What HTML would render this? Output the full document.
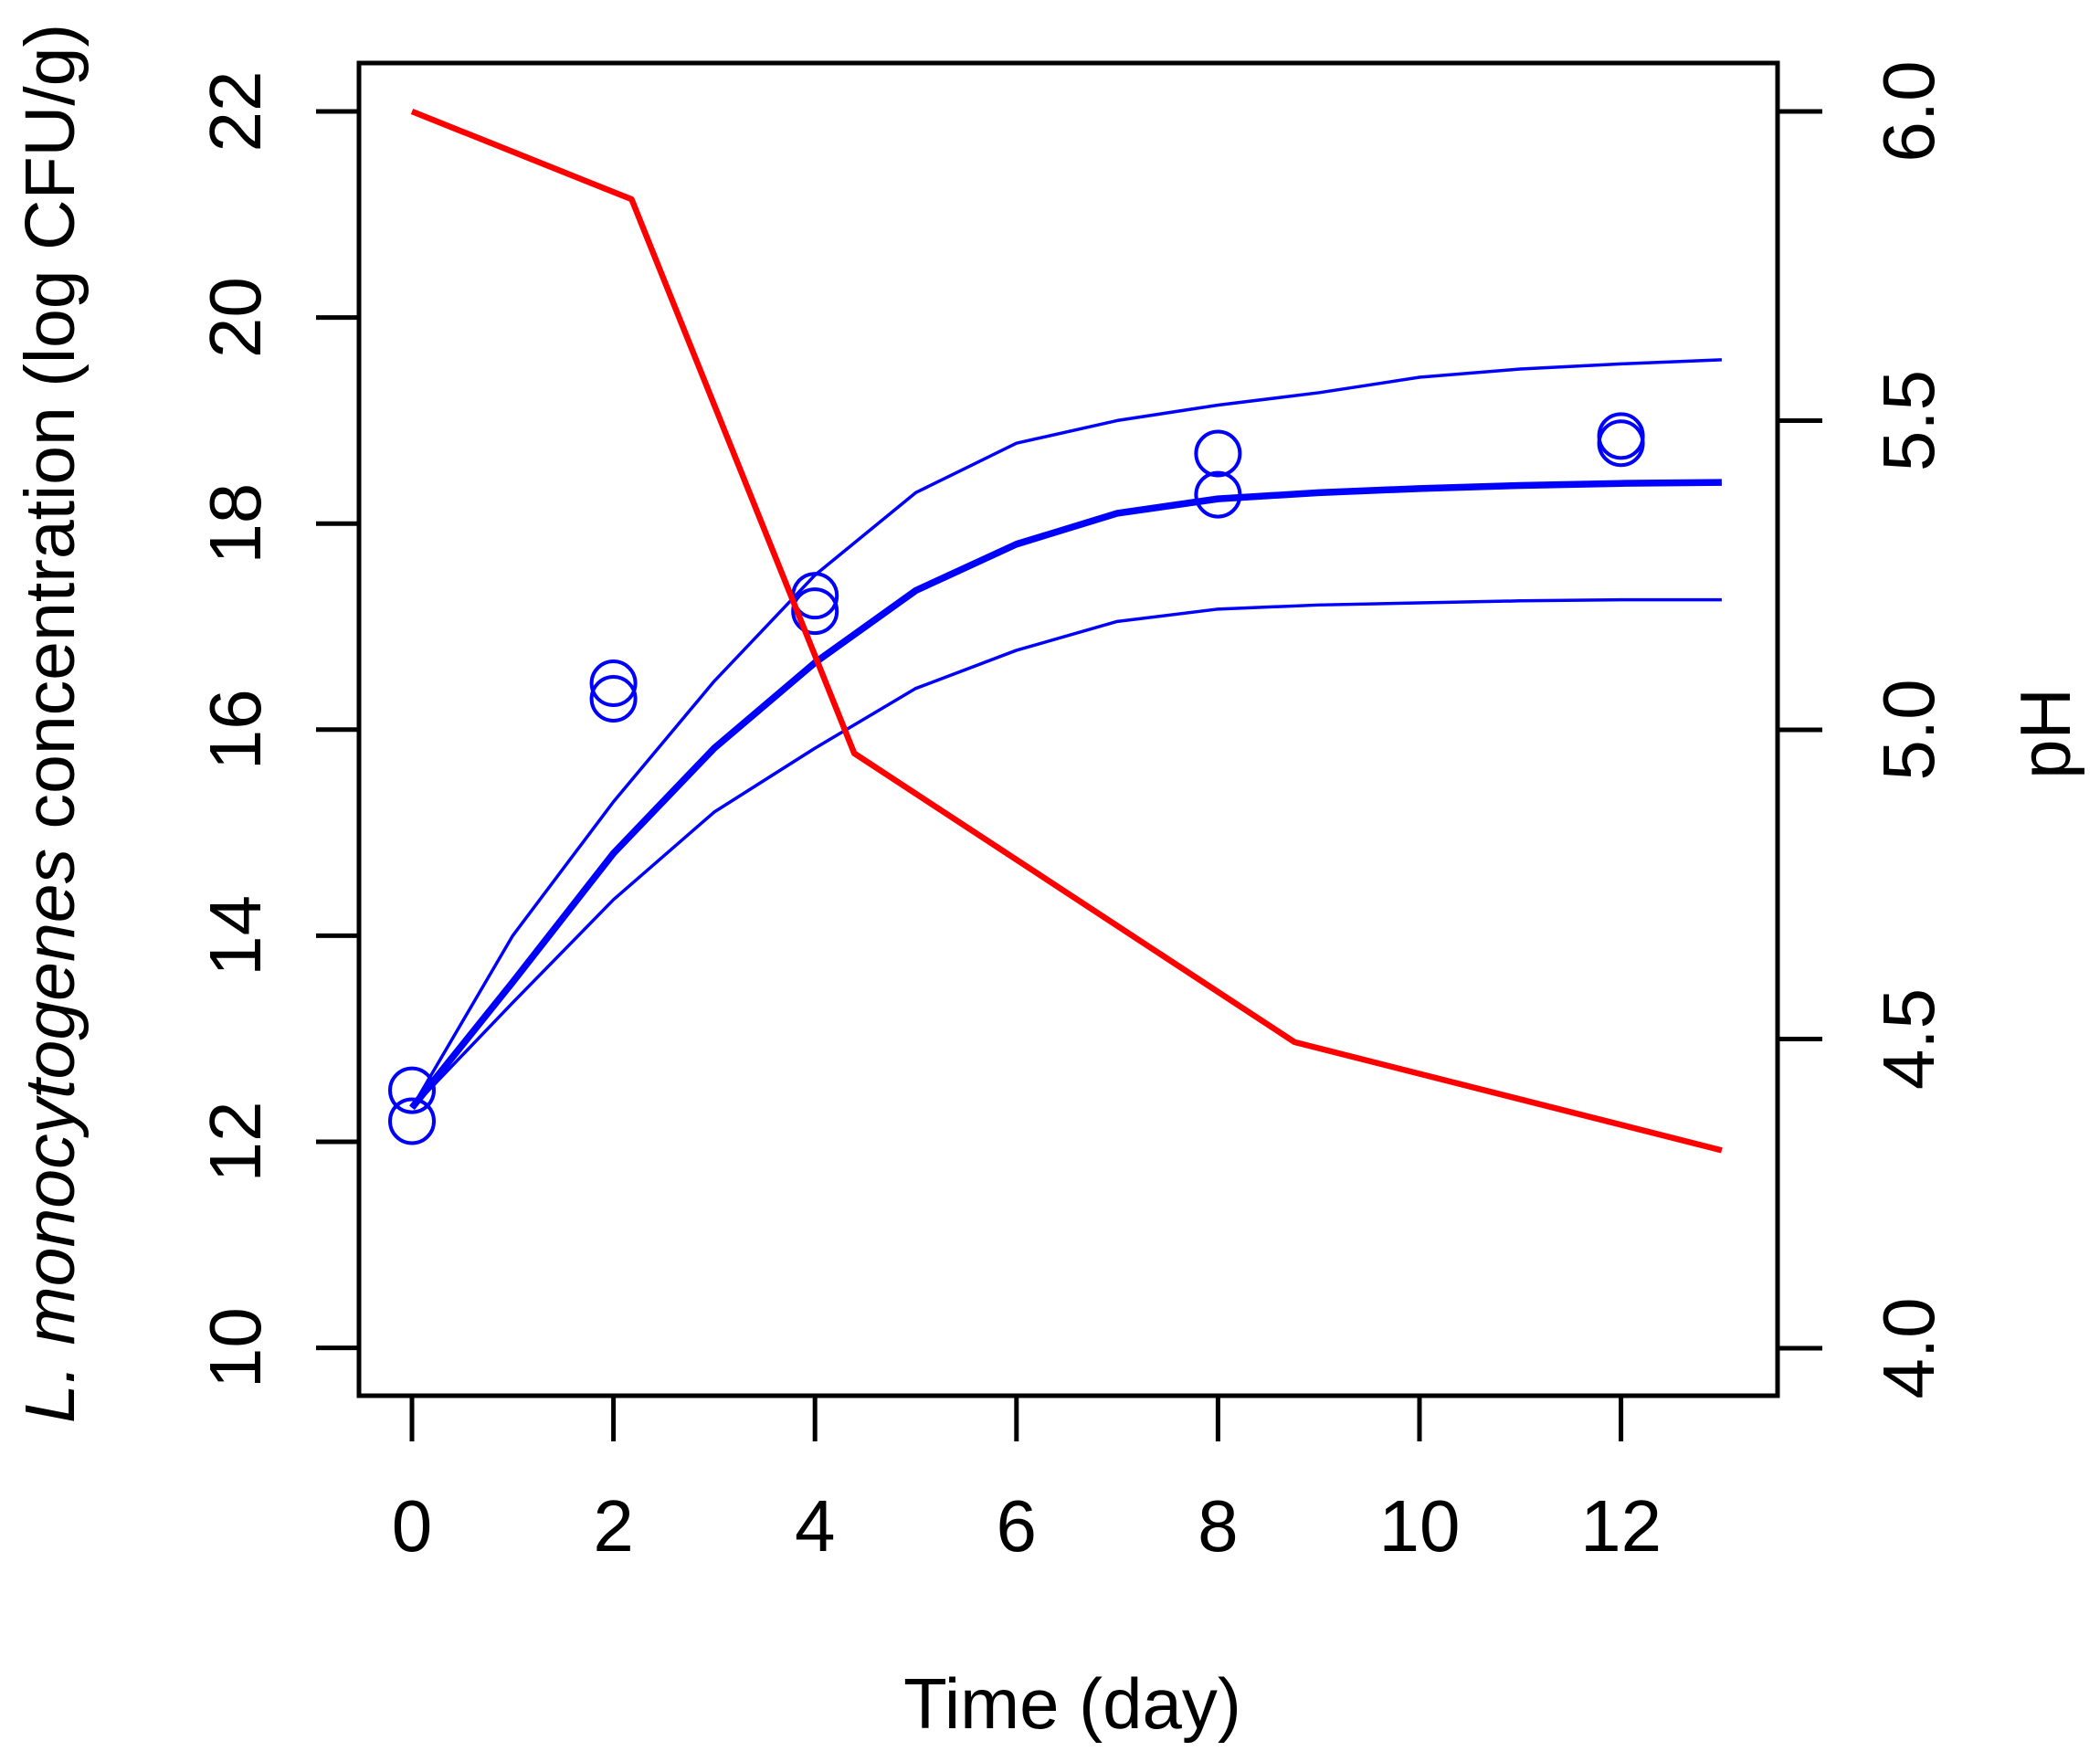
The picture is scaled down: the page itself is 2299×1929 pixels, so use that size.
<!DOCTYPE html>
<html><head><meta charset="utf-8"><style>html,body{margin:0;padding:0;background:#fff}svg{display:block}text{font-family:"Liberation Sans",sans-serif;fill:#000}</style></head>
<body>
<svg id="chart" width="2299" height="1929" viewBox="0 0 2299 1929" xmlns="http://www.w3.org/2000/svg">
<g id="axes"></g>
<g id="series"></g>
<text x="1174" y="1892" font-size="78" text-anchor="middle">Time (day)</text>
<text transform="translate(81,792) rotate(-90)" font-size="77" text-anchor="middle"><tspan font-style="italic">L. monocytogenes</tspan> concentration (log CFU/g)</text>
<text transform="translate(2266,803) rotate(-90)" font-size="78" text-anchor="middle">pH</text>
</svg>
<script>
const xTicks=[0,2,4,6,8,10,12];
const yTicks=[10,12,14,16,18,20,22];
const y2Ticks=[4.0,4.5,5.0,5.5,6.0];
const y2TickLabels=["4.0","4.5","5.0","5.5","6.0"];
const days=[0,1,2,3,4,5,6,7,8,9,10,11,12,13];
const meanFit=[12.33,13.55,14.8,15.82,16.65,17.35,17.8,18.1,18.24,18.3,18.34,18.37,18.39,18.4];
const upperBand=[12.33,14.0,15.3,16.47,17.5,18.3,18.78,19.0,19.15,19.27,19.42,19.5,19.55,19.59];
const lowerBand=[12.33,13.35,14.35,15.2,15.82,16.4,16.77,17.05,17.17,17.21,17.23,17.25,17.26,17.26];
const obsDays=[0,0,2,2,4,4,8,8,12,12];
const obsConc=[12.5,12.2,16.45,16.3,17.3,17.15,18.68,18.28,18.85,18.78];
const phDays=[0,2.18,4.39,8.76,13];
const phVals=[6.0,5.858,4.962,4.495,4.32];

const X=d=>451+d*110.3;
const Y=v=>1250-(v-12)*112.8;
const Y2=p=>122+(6-p)*677;
const NS="http://www.w3.org/2000/svg";
function mk(tag,attrs,parent){const e=document.createElementNS(NS,tag);for(const k in attrs)e.setAttribute(k,attrs[k]);parent.appendChild(e);return e;}
const ax=document.getElementById('axes'), se=document.getElementById('series');
let box=mk('rect',{x:393,y:69,width:1553,height:1459,fill:'none',stroke:'#000','stroke-width':5},ax);


xTicks.forEach(t=>{
 let l=mk('line',{x1:X(t),x2:X(t),y1:1530,y2:1578,stroke:'#000','stroke-width':5},ax);
 
 
 let tx=mk('text',{x:X(t),y:1698,'font-size':80,'text-anchor':'middle'},ax);tx.textContent=t;
 
 
});
yTicks.forEach(t=>{
 let l=mk('line',{x1:346,x2:393,y1:Y(t),y2:Y(t),stroke:'#000','stroke-width':5},ax);
 
 
 let tx=mk('text',{transform:`translate(285,${Y(t)}) rotate(-90)`,'font-size':80,'text-anchor':'middle'},ax);tx.textContent=t;
 
 
});
y2Ticks.forEach((t,i)=>{
 let l=mk('line',{x1:1946,x2:1995,y1:Y2(t),y2:Y2(t),stroke:'#000','stroke-width':5},ax);
 
 
 let tx=mk('text',{transform:`translate(2117,${Y2(t)}) rotate(-90)`,'font-size':80,'text-anchor':'middle'},ax);tx.textContent=y2TickLabels[i];
 
 
});
function line(xs,ys,fy,color,w,name){
 const p=mk('polyline',{points:xs.map((d,i)=>X(d)+','+fy(ys[i])).join(' '),fill:'none',stroke:color,'stroke-width':w,'stroke-linejoin':'round'},se);
 
 
}
line(days,upperBand,Y,'#0000ff',3.5,'upper-prediction-band');
line(days,lowerBand,Y,'#0000ff',3.5,'lower-prediction-band');
line(days,meanFit,Y,'#0000ff',7.5,'mean-growth-fit');
obsDays.forEach((d,i)=>{
 const c=mk('circle',{cx:X(d),cy:Y(obsConc[i]),r:24,fill:'none',stroke:'#0000ff','stroke-width':4},se);
 
 
});
line(phDays,phVals,Y2,'#ff0000',6.5,'ph-line');
</script>
</body></html>
